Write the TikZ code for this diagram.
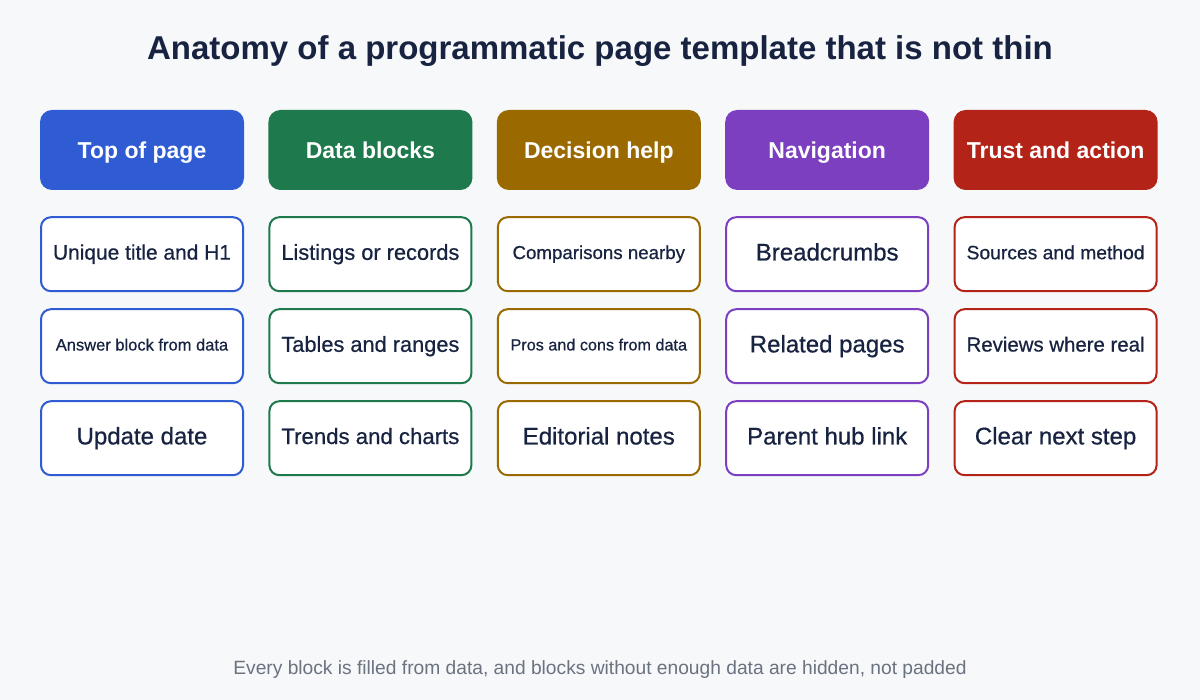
\documentclass[tikz,border=0pt]{standalone}
\usepackage{fontspec}
\usepackage{graphicx}
\setmainfont{Liberation Sans}
\newfontfamily\midfont{Liberation Sans}[FakeBold=0.6]
\usetikzlibrary{positioning}

\definecolor{pagebg}{HTML}{F6F8FA}
\definecolor{ink}{HTML}{172340}
\definecolor{muted}{HTML}{6B7280}
\definecolor{cblue}{HTML}{2F5BD3}
\definecolor{cgreen}{HTML}{1E7A4C}
\definecolor{cgold}{HTML}{9A6A00}
\definecolor{cpurple}{HTML}{7B3FBF}
\definecolor{cred}{HTML}{B42318}

% shrink a label if it is wider than the box allows
\newcommand\fitlabel[1]{\sbox0{#1\rule[-0.2em]{0pt}{0.9em}}\ifdim\wd0>178pt\resizebox{178pt}{!}{\usebox0}\else\usebox0\fi}

\begin{document}
\begin{tikzpicture}[node distance=16pt and 26pt,
      head/.style={fill=#1, text=white, rounded corners=12pt, minimum width=204pt, minimum height=80pt,
        text height=20pt, text depth=3.5pt, font=\fontsize{23}{27}\selectfont\bfseries},
      item/.style={draw=#1, line width=2pt, fill=white, rounded corners=10pt, minimum width=202pt,
        minimum height=74pt, text=ink, font=\fontsize{24}{28}\midfont}]
    \useasboundingbox[fill=pagebg] (0,0) rectangle (1200pt,700pt);
    \node[font=\fontsize{33}{38}\selectfont\bfseries, text=ink] (title) at (600pt,649pt)
      {Anatomy of a programmatic page template that is not thin};
    % column heads
    \node[head=cblue] (top) at (142pt,550pt) {Top of page};
    \node[head=cgreen, right=24pt of top] (data) {Data blocks};
    \node[head=cgold, right=24pt of data] (decide) {Decision help};
    \node[head=cpurple, right=24pt of decide] (nav) {Navigation};
    \node[head=cred, right=24pt of nav] (trust) {Trust and action};
    % blocks under each head
    \node[item=cblue, below=26pt of top] (top1) {\fitlabel{Unique title and H1}};
    \node[item=cblue, below=of top1] (top2) {\fitlabel{\fontsize{16.5}{20}\midfont Answer block from data}};
    \node[item=cblue, below=of top2] (top3) {\fitlabel{Update date}};
    \node[item=cgreen, below=26pt of data] (data1) {\fitlabel{Listings or records}};
    \node[item=cgreen, below=of data1] (data2) {\fitlabel{Tables and ranges}};
    \node[item=cgreen, below=of data2] (data3) {\fitlabel{Trends and charts}};
    \node[item=cgold, below=26pt of decide] (decide1) {\fitlabel{\fontsize{18.7}{22}\midfont Comparisons nearby}};
    \node[item=cgold, below=of decide1] (decide2) {\fitlabel{\fontsize{16.2}{20}\midfont Pros and cons from data}};
    \node[item=cgold, below=of decide2] (decide3) {\fitlabel{Editorial notes}};
    \node[item=cpurple, below=26pt of nav] (nav1) {\fitlabel{Breadcrumbs}};
    \node[item=cpurple, below=of nav1] (nav2) {\fitlabel{Related pages}};
    \node[item=cpurple, below=of nav2] (nav3) {\fitlabel{Parent hub link}};
    \node[item=cred, below=26pt of trust] (trust1) {\fitlabel{Sources and method}};
    \node[item=cred, below=of trust1] (trust2) {\fitlabel{Reviews where real}};
    \node[item=cred, below=of trust2] (trust3) {\fitlabel{Clear next step}};
    \node[font=\fontsize{19.2}{22}\selectfont, text=muted] (note) at (600pt,30pt)
      {Every block is filled from data, and blocks without enough data are hidden, not padded};
  \end{tikzpicture}
\end{document}
